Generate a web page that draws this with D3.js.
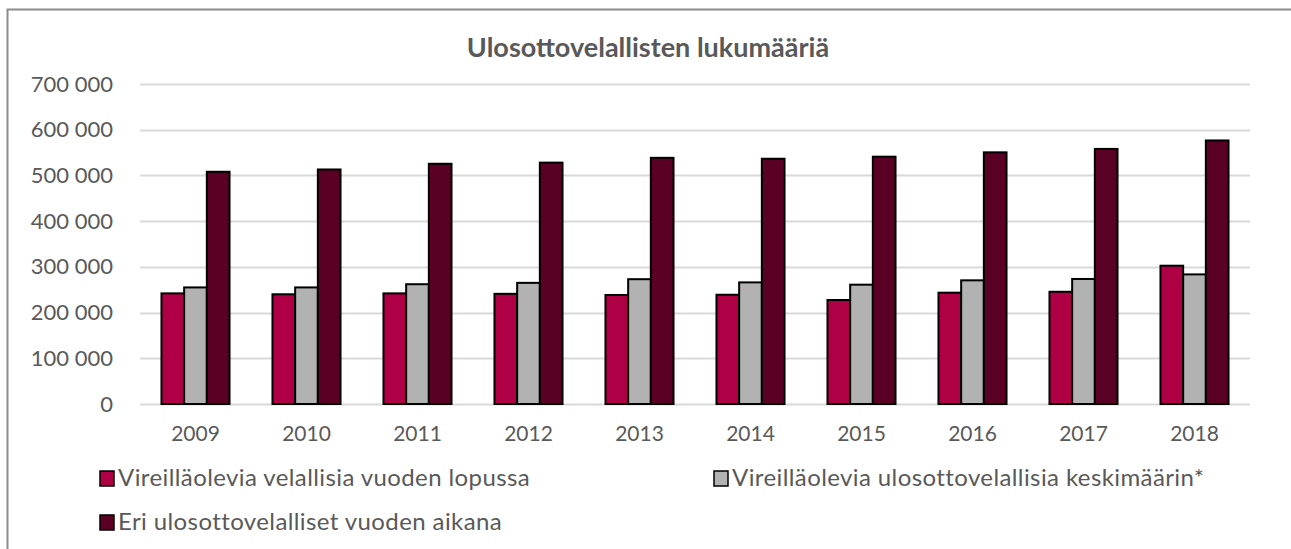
<!DOCTYPE html>
<html>
<head>
<meta charset="utf-8">
<script src="https://cdn.jsdelivr.net/npm/d3@7"></script>
<style>
  body { margin: 0; background: #fff; }
  text { font-family: Lato, "Open Sans", sans-serif; fill: #595959; }
</style>
</head>
<body>
<div id="chart"></div>
<script>
var years = ["2009", "2010", "2011", "2012", "2013", "2014", "2015", "2016", "2017", "2018"]
var seriesNames = [
  "Vireilläolevia velallisia vuoden lopussa",
  "Vireilläolevia ulosottovelallisia keskimäärin*",
  "Eri ulosottovelalliset vuoden aikana"
]
var lopussa = [242000, 240000, 242000, 241000, 238500, 239000, 227500, 243500, 245500, 302500]
var keskimaarin = [255000, 255000, 262000, 265000, 273000, 266000, 261000, 270500, 273500, 283500]
var vuodenAikana = [508000, 513000, 525500, 528000, 538500, 536500, 541000, 550500, 558000, 576500]
var yTicks = [0, 100000, 200000, 300000, 400000, 500000, 600000, 700000]
var colors = ["#B00045", "#B2B2B2", "#5A0024"]

var W = 1291, H = 549
var margin = {top: 84, right: 41, bottom: 145, left: 140},
    width = W - margin.left - margin.right,
    height = H - margin.top - margin.bottom

var svg = d3.select("#chart").append("svg")
    .attr("width", W)
    .attr("height", H)

// outer chart border
svg.append("rect")
    .attr("x", 7.5).attr("y", 9.5)
    .attr("width", W + 10).attr("height", H + 10)
    .attr("fill", "none")
    .attr("stroke", "#8C8C8C")
    .attr("stroke-width", 2)

svg.append("text")
    .attr("x", 648).attr("y", 57)
    .attr("text-anchor", "middle")
    .style("font-size", "27px")
    .style("font-weight", "bold")
    .text("Ulosottovelallisten lukumääriä")

var g = svg.append("g")
    .attr("transform", "translate(" + margin.left + "," + margin.top + ")")

var y = d3.scaleLinear().domain([0, 700000]).range([height, 0])
var x = d3.scaleBand().domain(years).range([0, width])
    .paddingInner(0.387).paddingOuter(0.1935)
var xs = d3.scaleBand().domain([0, 1, 2]).range([0, x.bandwidth()])

var fmt = function(d) { return d3.format(",")(d).replace(/,/g, " ") }

// gridlines
g.selectAll(".grid").data(yTicks).enter().append("line")
    .attr("x1", 0).attr("x2", width)
    .attr("y1", function(d) { return Math.round(y(d)) + 0.5 })
    .attr("y2", function(d) { return Math.round(y(d)) + 0.5 })
    .attr("stroke", "#D9D9D9")
    .attr("stroke-width", 2)

var yAxis = g.append("g")
    .call(d3.axisLeft(y).tickValues(yTicks).tickFormat(fmt).tickSize(0).tickPadding(27))
yAxis.select(".domain").remove()
yAxis.selectAll("text").style("font-size", "22px").attr("fill", "#595959")

var xAxis = g.append("g")
    .attr("transform", "translate(0," + height + ")")
    .call(d3.axisBottom(x).tickSize(0).tickPadding(22))
xAxis.select(".domain").remove()
xAxis.selectAll("text").style("font-size", "21px").attr("fill", "#595959")

var series = [lopussa, keskimaarin, vuodenAikana]
series.forEach(function(vals, si) {
  g.selectAll(".bar" + si).data(vals).enter().append("rect")
      .attr("x", function(d, i) { return x(years[i]) + xs(si) })
      .attr("y", function(d) { return y(d) })
      .attr("width", xs.bandwidth())
      .attr("height", function(d) { return height - y(d) })
      .attr("fill", colors[si])
      .attr("stroke", "#000")
      .attr("stroke-width", 2)
})

// legend
var legendPos = [[100, 486], [714, 486], [100, 530]]
var legend = svg.selectAll(".legend").data(seriesNames).enter().append("g")
    .attr("transform", function(d, i) { return "translate(" + legendPos[i][0] + "," + legendPos[i][1] + ")" })
legend.append("rect")
    .attr("x", 0).attr("y", -15)
    .attr("width", 14).attr("height", 15)
    .attr("fill", function(d, i) { return colors[i] })
    .attr("stroke", "#000")
    .attr("stroke-width", 1.5)
legend.append("text")
    .attr("x", 18).attr("y", 0)
    .style("font-size", "24px")
    .style("letter-spacing", "0.4px")
    .text(function(d) { return d })
</script>
</body>
</html>
